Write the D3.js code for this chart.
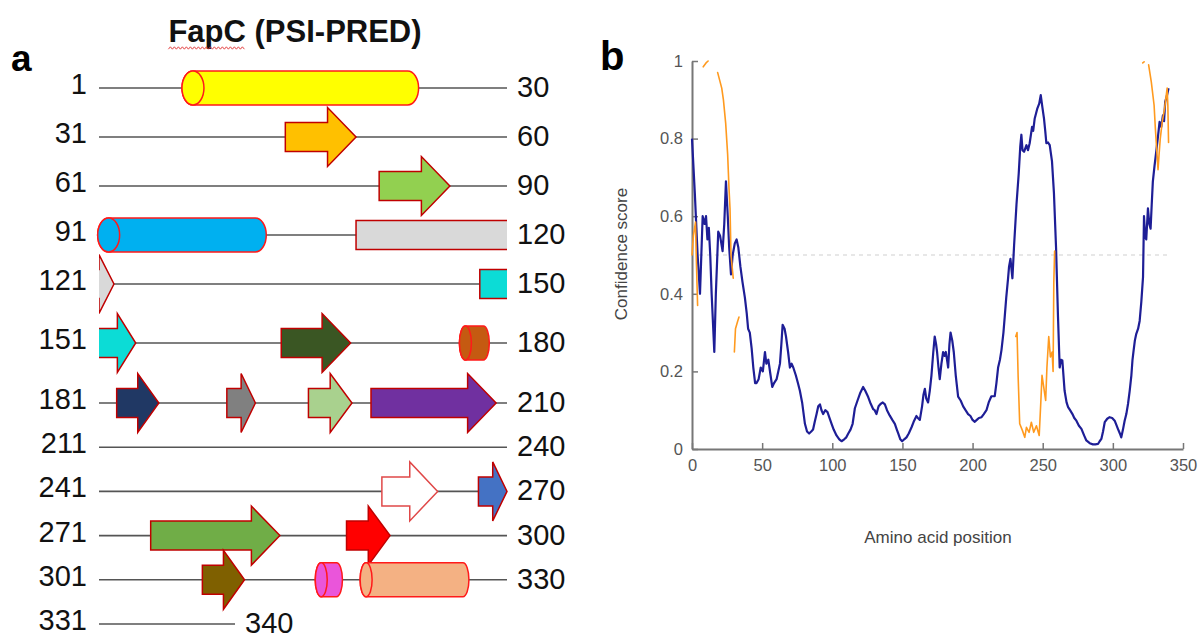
<!DOCTYPE html>
<html><head><meta charset="utf-8">
<script src="https://cdn.jsdelivr.net/npm/d3@7"></script>
<style>body{margin:0;background:#fff}svg{display:block}</style>
</head><body><svg id="c" width="1204" height="639"></svg>
<script>
// ---------------- DATA ----------------
const title = "FapC (PSI-PRED)";
const rowStart = [1,31,61,91,121,151,181,211,241,271,301,331];
const rowEnd   = [30,60,90,120,150,180,210,240,270,300,330,340];
// helices (sequence positions)
const helixStart = [7.1, 90.9, 177.5, 316.9, 320.2];
const helixEnd   = [24.5, 103.3, 179.7, 318.9, 328.2];
// strands
const strandStart = [44.7, 81.6, 109.9, 149.0, 164.4, 182.3, 190.4, 196.4, 201.0, 261.8, 268.9, 274.8, 289.2, 308.6];
const strandEnd   = [49.9, 86.8, 122.1, 153.7, 169.5, 185.4, 192.5, 199.6, 210.2, 265.9, 271.0, 284.3, 292.4, 311.7];

// panel b: confidence score
const bluePos = [0,2,4,5.7,7.6,9,10,11,12,13,14,15.9,17,18.7,20,21.8,23,24.2,25.5,26.5,27.8,29,30.5,31.8,33,34.5,36,37.7,39,40,41.2,42.5,43.7,45,46,47.5,49,50.5,52,53,54.4,56,57.2,58.5,60.3,61.5,62.7,63.7,64.6,66,67,68.5,69.8,71,72.2,74,75.5,76.9,78.5,80.5,82,83.5,85,86.3,87.5,88.8,90,91.2,92.3,93.5,95,96.6,98,99.5,101,103,105,106.6,108.5,110,111.4,113,114.5,116.1,118,120,122,123.5,125.6,127,129.1,130.2,131.5,133,134.4,136,137.5,139,141,142.8,144.6,146,147,148.5,149.8,151.3,152.9,154.5,156.5,158,160,161,162.4,164,165,166,167,168.3,169.5,170.7,172,173,174,174.7,175.7,176.6,177.8,179,180,180.9,181.8,182.6,183.5,184.3,185.5,186.6,188,189.7,191.5,193.3,195,196.8,198.5,200,201.6,203,204.5,206.4,208,209.9,211.5,213.4,215.8,217,218.2,219.5,220.6,222,222.9,224,225.3,226,227,228.4,229.6,231.3,232.9,234,234.8,235.6,236.7,238.4,239.5,240.7,242.4,243.2,244.3,246.2,247.5,248.6,249.8,250.9,251.8,252.6,253.8,255,256.6,258,259.5,260.9,262.1,263,264,265.6,267,268.1,269.5,271.2,272.5,274,275.8,277.6,279.5,281.1,283.5,285.8,287.5,289.4,290.6,291.8,293,294.2,296,297.7,299.5,301.3,302.5,303.6,305,306,307.2,308.4,309.6,310.8,312,313.2,314,314.8,315.7,316.7,318,319.1,320.3,321.5,322.2,323,323.8,325,326,326.9,327.7,328.5,329.7,330.9,332,333.3,334.5,335.7,336.5,337.3,338.5,339.7];
const blueVal = [0.80,0.66,0.50,0.40,0.60,0.58,0.60,0.54,0.57,0.50,0.40,0.25,0.40,0.56,0.55,0.51,0.58,0.69,0.60,0.52,0.45,0.50,0.53,0.54,0.52,0.47,0.43,0.39,0.35,0.31,0.30,0.26,0.21,0.17,0.17,0.18,0.21,0.20,0.25,0.22,0.23,0.19,0.16,0.17,0.18,0.20,0.22,0.27,0.32,0.31,0.29,0.25,0.21,0.22,0.21,0.19,0.17,0.15,0.12,0.065,0.045,0.04,0.045,0.05,0.07,0.09,0.11,0.115,0.10,0.09,0.10,0.095,0.08,0.065,0.05,0.035,0.025,0.02,0.025,0.03,0.04,0.05,0.065,0.105,0.125,0.145,0.16,0.15,0.134,0.12,0.103,0.10,0.09,0.11,0.116,0.12,0.115,0.10,0.086,0.075,0.065,0.05,0.04,0.025,0.02,0.025,0.03,0.04,0.056,0.07,0.085,0.08,0.075,0.11,0.14,0.155,0.13,0.12,0.15,0.19,0.25,0.29,0.27,0.25,0.21,0.18,0.22,0.25,0.24,0.25,0.23,0.21,0.27,0.30,0.28,0.25,0.19,0.135,0.125,0.11,0.10,0.09,0.085,0.075,0.07,0.075,0.08,0.082,0.09,0.10,0.12,0.136,0.136,0.17,0.21,0.23,0.255,0.30,0.34,0.39,0.44,0.47,0.49,0.44,0.525,0.63,0.71,0.78,0.81,0.77,0.766,0.783,0.77,0.788,0.83,0.82,0.852,0.878,0.89,0.912,0.88,0.852,0.82,0.788,0.79,0.783,0.742,0.66,0.52,0.34,0.21,0.23,0.228,0.15,0.12,0.108,0.10,0.09,0.08,0.073,0.06,0.052,0.035,0.022,0.015,0.012,0.012,0.013,0.02,0.026,0.045,0.069,0.078,0.082,0.08,0.073,0.062,0.052,0.04,0.03,0.05,0.073,0.09,0.116,0.15,0.19,0.23,0.254,0.28,0.297,0.31,0.33,0.38,0.443,0.60,0.55,0.54,0.62,0.58,0.568,0.63,0.689,0.73,0.766,0.80,0.843,0.83,0.86,0.845,0.895,0.91,0.93];

const orangePosA = [0,1,2.5,3,4];
const orangeValA = [0.50,0.55,0.585,0.50,0.37];
const orangePosB = [8,10,11.5];
const orangeValB = [0.985,0.995,1.0];
const orangePosC = [18.3,21.2,22.4,24,25.4,26.4,27.1,27.8,29.4];
const orangeValC = [0.97,0.93,0.90,0.84,0.76,0.67,0.62,0.50,0.44];
const orangePosD = [30.2,31,32.6,33.5];
const orangeValD = [0.25,0.31,0.33,0.34];
const orangePosE = [230.8,231.7,232.5,233.6,235.5,237.2,238.4,240.3,241.9,243.6,245.5,247.5,248.7,249.5,250.7,252.1,253,254.3,255.5,256.7,257.4,257.9,258.5];
const orangeValE = [0.29,0.30,0.185,0.065,0.048,0.03,0.056,0.043,0.069,0.043,0.06,0.035,0.125,0.19,0.16,0.125,0.21,0.29,0.237,0.25,0.20,0.43,0.51];
const orangePosF = [321.3,322.3];
const orangeValF = [0.995,0.998];
const orangePosG = [325.5,327.4,329.4,330.3,331.2,332.2,332.9,333.8,335.2,336.9,338.7,339.2,339.7];
const orangeValG = [0.99,0.946,0.886,0.826,0.775,0.72,0.757,0.80,0.843,0.878,0.93,0.886,0.79];

const xTicks = [0,50,100,150,200,250,300,350];
const yTicks = [0,0.2,0.4,0.6,0.8,1];
const xLabel = "Amino acid position";
const yLabel = "Confidence score";

// ---------------- STYLE ----------------
const helixColors = ["#FFFF00","#00B0F0","#C55A11","#EA55DA","#F4B183"];
const strandColors = ["#FFC000","#92D050","#D9D9D9","#0CDCD6","#3A5623","#203864","#808080","#A9D18E","#7030A0","#FFFFFF","#4472C4","#70AD47","#FF0000","#7F6000"];
const FONT = "'Liberation Sans', Arial, sans-serif";

const svg = d3.select("#c");
svg.append("rect").attr("width",1204).attr("height",639).attr("fill","#fff");

// ---------------- PANEL A ----------------
const A = svg.append("g");
const xRes = d3.scaleLinear().domain([0,30]).range([99,507]);
const rowY = d3.scaleLinear().domain([0,4,5,6,11]).range([88,284,343,403,624]);
const BH = 14.5, HH = 29.5, HR = 17;

const defs = svg.append("defs");
rowStart.forEach((r0,i)=>{
  const len = rowEnd[i]-r0+1;
  defs.append("clipPath").attr("id","rc"+i).append("rect")
    .attr("x",xRes(0)).attr("y",rowY(i)-40).attr("width",xRes(len)-xRes(0)).attr("height",80);
});

// title
const t = A.append("text").attr("x",295).attr("y",42).attr("text-anchor","middle")
  .attr("font-family",FONT).attr("font-weight","bold").attr("font-size",31).attr("fill","#111").text(title);
const tnode = t.node();
const tw = tnode.getComputedTextLength();
const fw = tnode.getSubStringLength(0,4);
const ux0 = 295 - tw/2, ux1 = ux0 + fw;
const wave = d3.range(ux0, ux1+0.1, 2).map((x,k)=>[x, 48 + (k%2 ? -1.2 : 1.2)]);
A.append("path").attr("d",d3.line()(wave)).attr("fill","none").attr("stroke","#e03030").attr("stroke-width",0.9);

A.append("text").attr("x",11).attr("y",71).attr("font-family",FONT).attr("font-weight","bold")
  .attr("font-size",37).attr("fill","#000").text("a");

rowStart.forEach((r0,i)=>{
  const len = rowEnd[i]-r0+1;
  const y = rowY(i);
  const g = A.append("g");
  g.append("line").attr("x1",xRes(0)).attr("x2",xRes(len)).attr("y1",y).attr("y2",y)
    .attr("stroke","#555").attr("stroke-width",1.6);
  g.append("text").attr("x",87).attr("y",y-4).attr("text-anchor","end").attr("dominant-baseline","central")
    .attr("font-family",FONT).attr("font-size",29).attr("fill","#111").text(r0);
  g.append("text").attr("x",xRes(len)+10).attr("y",y-1).attr("text-anchor","start").attr("dominant-baseline","central")
    .attr("font-family",FONT).attr("font-size",29).attr("fill","#111").text(rowEnd[i]);

  // strands
  strandStart.forEach((s,k)=>{
    const e = strandEnd[k];
    if (Math.max(s,r0) >= Math.min(e,r0+len)) return;
    const cutL = s < r0, cutR = e > r0+len;
    const xs = cutL ? xRes(0)-20 : xRes(s-r0);
    let d;
    if (cutR) {
      const xe = xRes(len)+20;
      d = `M${xs},${y-BH}H${xe}V${y+BH}H${xs}Z`;
    } else {
      const xe = xRes(e-r0);
      const w = xe - Math.max(xs, xRes(0));
      const hl = w < 20 ? w : Math.min(28.5, w/2);
      const xb = xe - hl;
      d = `M${xs},${y-BH}H${xb}V${y-HH}L${xe},${y}L${xb},${y+HH}V${y+BH}H${xs}Z`;
    }
    const p = g.append("path").attr("d",d).attr("fill",strandColors[k])
      .attr("stroke", strandColors[k]==="#FFFFFF" ? "#E04848" : "#C00000").attr("stroke-width",1.5)
      .attr("stroke-linejoin","miter");
    if (cutL||cutR) p.attr("clip-path",`url(#rc${i})`);
  });

  // helices (assigned to the row containing their midpoint)
  helixStart.forEach((s,k)=>{
    const e = helixEnd[k];
    const mid = (s+e)/2;
    if (mid < r0 || mid >= r0+len) return;
    const x0 = xRes(s-r0), x1 = xRes(e-r0);
    const rx = (x1-x0) > 150 ? 11 : 6, ry = HR;
    const d = `M${x0+rx},${y-ry}H${x1-rx}A${rx},${ry} 0 0 1 ${x1-rx},${y+ry}H${x0+rx}A${rx},${ry} 0 0 1 ${x0+rx},${y-ry}Z`;
    g.append("path").attr("d",d).attr("fill",helixColors[k]).attr("stroke","#FF1A1A").attr("stroke-width",1.5);
    g.append("ellipse").attr("cx",x0+rx).attr("cy",y).attr("rx",rx).attr("ry",ry)
      .attr("fill",helixColors[k]).attr("stroke","#FF1A1A").attr("stroke-width",1.5);
  });
});

// ---------------- PANEL B ----------------
const B = svg.append("g");
const xB = d3.scaleLinear().domain([0,350]).range([692,1183]);
const yB = d3.scaleLinear().domain([0,1]).range([449,61]);

B.append("text").attr("x",600).attr("y",70).attr("font-family",FONT).attr("font-weight","bold")
  .attr("font-size",40).attr("fill","#000").text("b");

// threshold dashed line
B.append("line").attr("x1",xB(5)).attr("x2",xB(340)).attr("y1",yB(0.5)).attr("y2",yB(0.5))
  .attr("stroke","#cfcfcf").attr("stroke-width",1.2).attr("stroke-dasharray","4,4");

const ax = B.append("g").attr("transform",`translate(0,${yB(0)})`)
  .call(d3.axisBottom(xB).tickValues(xTicks).tickSizeInner(-6).tickSizeOuter(0).tickPadding(10).tickFormat(d3.format("d")));
const ay = B.append("g").attr("transform",`translate(${xB(0)},0)`)
  .call(d3.axisLeft(yB).tickValues(yTicks).tickSizeInner(-6).tickSizeOuter(0).tickPadding(9)
    .tickFormat(d => (d===0||d===1) ? d3.format("d")(d) : d3.format(".1f")(d)));
[ax,ay].forEach(a=>{
  a.select(".domain").attr("stroke","#777").attr("stroke-width",2);
  a.selectAll(".tick line").attr("stroke","#777").attr("stroke-width",1.5);
  a.selectAll(".tick text").attr("font-family",FONT).attr("font-size",16.5).attr("fill","#555");
});

B.append("text").attr("x",938).attr("y",537).attr("text-anchor","middle").attr("dominant-baseline","central")
  .attr("font-family",FONT).attr("font-size",17).attr("fill","#444").text(xLabel);
B.append("text").attr("transform","translate(621,254) rotate(-90)").attr("text-anchor","middle")
  .attr("dominant-baseline","central").attr("font-family",FONT).attr("font-size",17).attr("fill","#444").text(yLabel);

const line = d3.line().x(d=>xB(d[0])).y(d=>yB(d[1]));
B.append("path").attr("d",line(d3.zip(bluePos,blueVal))).attr("fill","none")
  .attr("stroke","#1E1E96").attr("stroke-width",2.2).attr("stroke-linejoin","round");
[[orangePosA,orangeValA],[orangePosB,orangeValB],[orangePosC,orangeValC],[orangePosD,orangeValD],
 [orangePosE,orangeValE],[orangePosF,orangeValF],[orangePosG,orangeValG]].forEach(([p,v])=>{
  B.append("path").attr("d",line(d3.zip(p,v))).attr("fill","none")
    .attr("stroke","#FF9A1F").attr("stroke-width",1.6).attr("stroke-linejoin","round").attr("stroke-linecap","round");
});
</script></body></html>
